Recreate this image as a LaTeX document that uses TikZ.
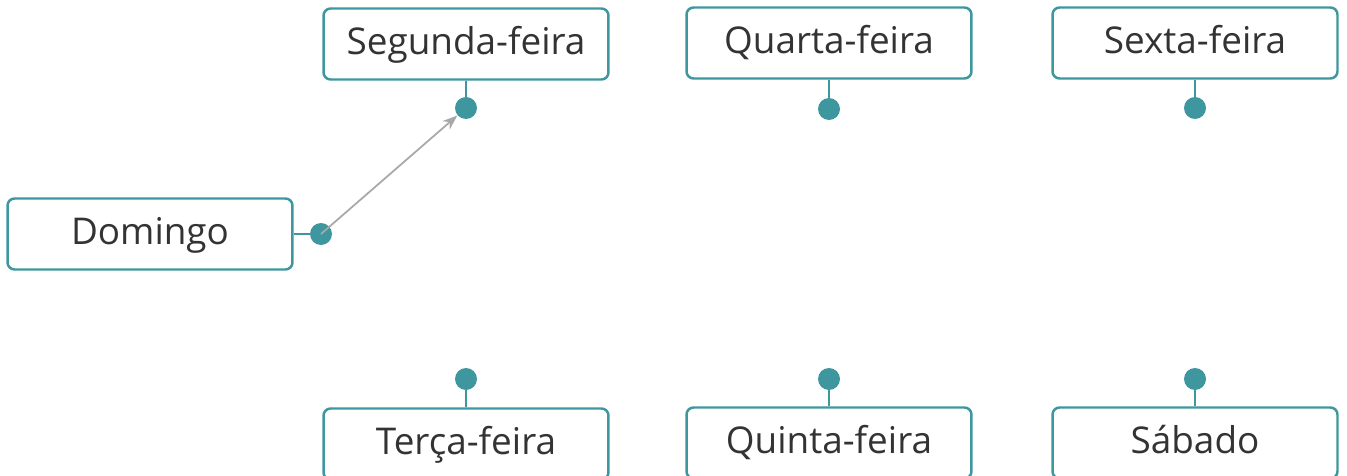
\documentclass[tikz,border=0pt]{standalone}
\usepackage{fontspec}
\setmainfont{Open Sans}
\usetikzlibrary{arrows.meta}
\definecolor{tealline}{HTML}{3E969E}
\definecolor{daytext}{HTML}{333333}
\definecolor{arrowgray}{HTML}{A8A8A8}

\begin{document}
\begin{tikzpicture}[x=0.02cm, y=-0.02cm,
    daybox/.style={draw=tealline, line width=1.4pt, rounded corners=4pt, minimum width=5.7cm, minimum height=1.42cm, text height=16pt, text depth=4.6pt, text=daytext, font=\fontsize{21}{24}\selectfont},
    knob/.style={circle, fill=tealline, inner sep=0pt, minimum size=0.44cm},
    stem/.style={draw=tealline, line width=1.4pt}]
    \useasboundingbox (0,0) rectangle (1347,476);
    \clip (0,0) rectangle (1347,476);

    \node[daybox] (dom) at (150, 234) {Domingo};
    \node[daybox] (seg) at (466, 44) {Segunda-feira};
    \node[daybox] (qua) at (829, 43) {Quarta-feira};
    \node[daybox] (sex) at (1195, 43) {Sexta-feira};
    \node[daybox] (ter) at (466, 444) {Terça-feira};
    \node[daybox] (qui) at (829, 443) {Quinta-feira};
    \node[daybox] (sab) at (1195, 443) {Sábado};

    \node[knob] (dom-k) at (321, 234) {};
    \node[knob] (seg-k) at (466, 108) {};
    \node[knob] (qua-k) at (829, 109) {};
    \node[knob] (sex-k) at (1195, 108) {};
    \node[knob] (ter-k) at (466, 379) {};
    \node[knob] (qui-k) at (829, 379) {};
    \node[knob] (sab-k) at (1195, 379) {};

    \draw[stem] (dom) -- (dom-k);
    \draw[stem] (seg) -- (seg-k);
    \draw[stem] (qua) -- (qua-k);
    \draw[stem] (sex) -- (sex-k);
    \draw[stem] (ter) -- (ter-k);
    \draw[stem] (qui) -- (qui-k);
    \draw[stem] (sab) -- (sab-k);

    \draw[arrowgray, line width=1pt, -{Stealth[length=0.3cm, width=0.22cm]}] (dom-k.center) -- (seg-k);
\end{tikzpicture}
\end{document}
